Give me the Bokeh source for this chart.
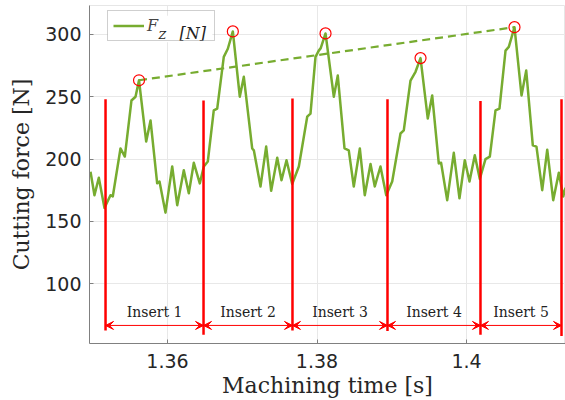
from bokeh.plotting import figure
from bokeh.models import (Arrow, VeeHead, Legend, LegendItem, Range1d,
                          FixedTicker, NumeralTickFormatter, BoxAnnotation)
from bokeh.core.properties import value
from bokeh.embed import file_html
from bokeh.resources import INLINE

# ---------------- data ----------------
time_s = [1.34970, 1.35023, 1.35081, 1.35157, 1.35237, 1.35268, 1.35371, 1.35429,
          1.35518, 1.35572, 1.35619, 1.35715, 1.35773, 1.35862, 1.35893, 1.35973,
          1.36063, 1.36130, 1.36218, 1.36285, 1.36352, 1.36432, 1.36486, 1.36539,
          1.36619, 1.36665, 1.36753, 1.36807, 1.36874, 1.36967, 1.37021, 1.37133,
          1.37155, 1.37244, 1.37320, 1.37387, 1.37468, 1.37525, 1.37592, 1.37668,
          1.37757, 1.37869, 1.37913, 1.37980, 1.38024, 1.38050, 1.38114, 1.38225,
          1.38278, 1.38368, 1.38425, 1.38492, 1.38573, 1.38639, 1.38716, 1.38773,
          1.38849, 1.38926, 1.39006, 1.39117, 1.39161, 1.39251, 1.39318, 1.39385,
          1.39482, 1.39541, 1.39629, 1.39660, 1.39742, 1.39830, 1.39906, 1.39977,
          1.40040, 1.40111, 1.40178, 1.40254, 1.40312, 1.40388, 1.40441, 1.40522,
          1.40566, 1.40642, 1.40736, 1.40799, 1.40887, 1.40936, 1.41013, 1.41080,
          1.41160, 1.41235, 1.41294, 1.41324]
force_fz = [189.8, 171.0, 185.0, 160.8, 171.0, 170.0, 208.5, 202.0,
            247.0, 250.0, 263.2, 214.0, 231.0, 180.5, 182.0, 157.0,
            194.0, 163.0, 191.0, 172.5, 197.0, 180.5, 194.0, 198.0,
            239.0, 240.5, 282.0, 288.5, 302.4, 250.0, 266.0, 208.5,
            207.0, 178.0, 210.0, 174.5, 201.0, 183.0, 199.0, 180.0,
            194.0, 234.0, 236.5, 282.0, 287.0, 289.0, 300.8, 250.0,
            267.0, 208.5, 207.0, 178.0, 208.5, 171.0, 196.0, 178.0,
            194.0, 171.0, 182.0, 220.5, 223.0, 263.0, 270.0, 281.0,
            232.5, 251.0, 196.5, 197.0, 167.0, 205.0, 168.5, 199.0,
            182.0, 203.0, 184.0, 200.0, 202.0, 239.0, 240.5, 287.0,
            290.0, 305.8, 251.0, 271.0, 211.0, 210.0, 175.0, 207.5,
            167.0, 189.0, 170.0, 177.0]

peak_time = [1.35619, 1.36874, 1.38114, 1.39385, 1.40642]
peak_force = [263.2, 302.4, 300.8, 281.0, 305.8]

insert_edge_time = [1.35171, 1.36482, 1.37672, 1.38943, 1.40187, 1.41271]
insert_edge_top = [248.0, 247.0, 248.5, 248.0, 246.5, 248.0]
insert_edge_bottom = [62.5, 59.0, 62.5, 62.0, 59.0, 58.0]
insert_labels = ["Insert 1", "Insert 2", "Insert 3", "Insert 4", "Insert 5"]

x_ticks = [1.36, 1.38, 1.40]
y_ticks = [100, 150, 200, 250, 300]

# ---------------- layout / style constants ----------------
GREEN = "#77AC30"
RED = "#FF0000"
ARROW_Y = 66.5
LABEL_Y = 77.0
SERIF = "DejaVu Serif"
SANS = "DejaVu Sans"

p = figure(width=565, height=400, output_backend="svg", toolbar_location=None,
           x_range=Range1d(1.349565, 1.413244), y_range=Range1d(52, 323.2),
           min_border_left=89, min_border_right=0, min_border_top=5,
           min_border_bottom=56)
p.background_fill_color = "white"
p.border_fill_color = "white"
p.outline_line_color = "#e6e6e6"

# grid
p.xgrid.grid_line_color = "#e8e8e8"
p.ygrid.grid_line_color = "#e8e8e8"

# axes
for ax in (p.xaxis[0], p.yaxis[0]):
    ax.axis_line_color = "#808080"
    ax.major_tick_line_color = "#808080"
    ax.major_tick_in = 4
    ax.major_tick_out = 0
    ax.minor_tick_line_color = None
    ax.major_label_text_font = SANS
    ax.major_label_text_font_size = "19px"
    ax.major_label_text_color = "#262626"
    ax.axis_label_text_font = SERIF
    ax.axis_label_text_font_style = "normal"
    ax.axis_label_text_font_size = "22px"
    ax.axis_label_text_color = "#262626"

p.xaxis[0].ticker = FixedTicker(ticks=x_ticks)
p.xaxis[0].formatter = NumeralTickFormatter(format="0.0[0]")
p.xaxis[0].major_label_standoff = 10
p.xaxis[0].axis_label = "Machining time [s]"
p.xaxis[0].axis_label_standoff = 2

p.yaxis[0].ticker = FixedTicker(ticks=y_ticks)
p.yaxis[0].major_label_standoff = 8
p.yaxis[0].axis_label = "Cutting force [N]"
p.yaxis[0].axis_label_standoff = 8

# white patch behind the legend box (hides the grid there)
p.add_layout(BoxAnnotation(left=1.35200, right=1.36600, bottom=293.8, top=315.0,
                           fill_color="white", fill_alpha=1, line_color=None,
                           level="underlay"))

# signal
sig = p.line(time_s, force_fz, line_color=GREEN, line_width=2.5, line_join="round")

# trend through peaks (first to last)
p.line([peak_time[0], peak_time[-1]], [peak_force[0], peak_force[-1]],
       line_color=GREEN, line_width=2.2, line_dash="8 5")

# peak markers
p.scatter(peak_time, peak_force, marker="circle", size=11, fill_color=None,
          line_color=RED, line_width=1.2)

# insert boundaries
p.segment(x0=insert_edge_time, y0=insert_edge_bottom, x1=insert_edge_time,
          y1=insert_edge_top, line_color=RED, line_width=2.5)

# double arrows + labels
for i, lab in enumerate(insert_labels):
    a, b = insert_edge_time[i], insert_edge_time[i + 1]
    p.add_layout(Arrow(x_start=a, x_end=b, y_start=ARROW_Y, y_end=ARROW_Y,
                       line_color=RED, line_width=1,
                       start=VeeHead(size=8, line_color=RED, fill_color=RED, line_width=1),
                       end=VeeHead(size=8, line_color=RED, fill_color=RED, line_width=1)))
    p.text(x=[(a + b) / 2], y=[LABEL_Y], text=[lab], text_align="center",
           text_baseline="middle", text_font=value(SERIF), text_font_size="14px",
           text_color="#222222")

# legend: "F" as the item label, subscript "Z" and "[N]" drawn beside it
leg = Legend(items=[LegendItem(label="F", renderers=[sig])],
             location=(18, 302), padding=5, margin=0, glyph_width=31,
             glyph_height=17, label_height=17, label_width=62, label_standoff=3,
             label_text_font=SERIF, label_text_font_style="italic",
             label_text_font_size="16px", border_line_color="#a0a0a0",
             border_line_width=1, background_fill_alpha=0)
p.add_layout(leg)
p.text(x=[1.35880], y=[298.8], text=["Z"], text_font=value(SERIF),
       text_font_style="italic", text_font_size="11px", text_color="#222222",
       text_baseline="alphabetic")
p.text(x=[1.36160], y=[300.4], text=["[N]"], text_font=value(SERIF),
       text_font_style="italic", text_font_size="16px", text_color="#222222",
       text_baseline="alphabetic")

open("out.html", "w").write(file_html(p, INLINE))
